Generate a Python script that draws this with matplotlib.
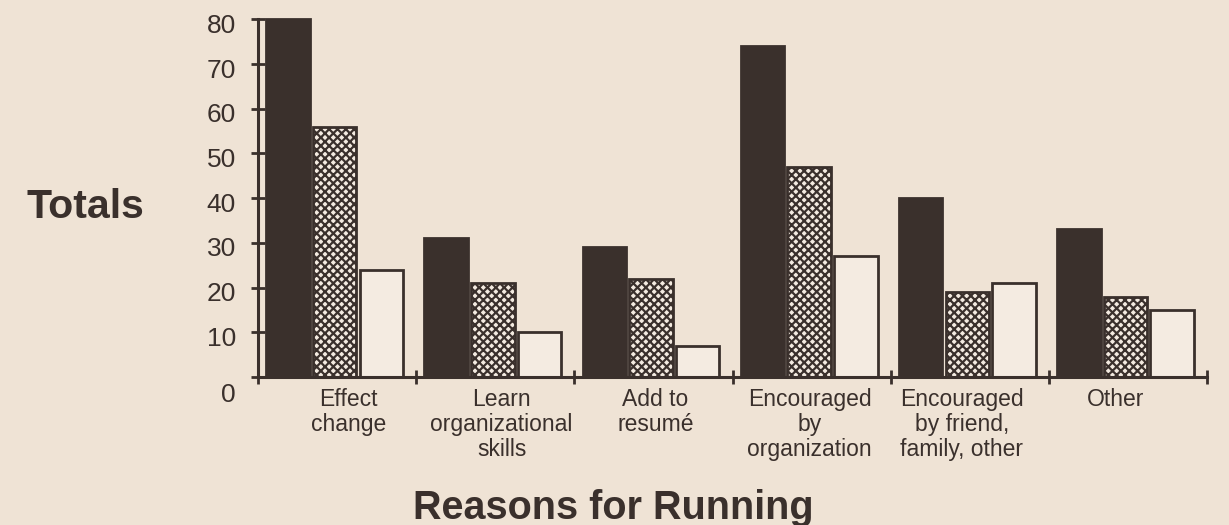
import matplotlib
matplotlib.use('Agg')
import matplotlib.pyplot as plt
import numpy as np
from matplotlib.transforms import ScaledTranslation

# ---- data ----
categories = ["Effect\nchange", "Learn\norganizational\nskills", "Add to\nresumé",
              "Encouraged\nby\norganization", "Encouraged\nby friend,\nfamily, other", "Other"]
series_dark = [80, 31, 29, 74, 40, 33]
series_dotted = [56, 21, 22, 47, 19, 18]
series_open = [24, 10, 7, 27, 21, 15]
y_ticks = [0, 10, 20, 30, 40, 50, 60, 70, 80]
y_tick_labels = ["0", "10", "20", "30", "40", "50", "60", "70", "80"]
x_title = "Reasons for Running"
y_title = "Totals"

# ---- style / layout ----
BG = '#efe3d5'
INK = '#3a302c'
label_shift = np.array([0.07, 0.04, 0.013, -0.013, -0.05, -0.075])

plt.rcParams['font.family'] = ['Liberation Sans', 'DejaVu Sans']
plt.rcParams['hatch.linewidth'] = 1.6

W, H = 1229, 525
fig = plt.figure(figsize=(W / 100, H / 100), dpi=100, facecolor=BG)
ax = fig.add_axes([258 / W, 1 - 377 / H, 949 / W, 357.6 / H])
ax.set_facecolor('none')

n = len(categories)
x = np.arange(n)
w = 0.275
offs = [0.19, 0.485, 0.78]
ax.bar(x + offs[0], series_dark, w, color=INK, edgecolor=INK, lw=2, clip_on=False, zorder=3)
ax.bar(x + offs[1], series_dotted, w, facecolor='#f3eae0', edgecolor=INK, hatch='xxxx',
       lw=2, clip_on=False, zorder=3)
ax.bar(x + offs[2], series_open, w, facecolor='#f4ebe1', edgecolor=INK, lw=2,
       clip_on=False, zorder=3)

ax.set_xlim(0, n)
ax.set_ylim(0, 80)
for s in ['top', 'right']:
    ax.spines[s].set_visible(False)
for s in ['left', 'bottom']:
    ax.spines[s].set_linewidth(2.2)
    ax.spines[s].set_color(INK)
    ax.spines[s].set_zorder(4)

ax.set_xticks(np.arange(n + 1))
ax.set_xticks(x + 0.5 + label_shift, labels=categories, minor=True)
ax.tick_params(axis='x', which='major', direction='inout', length=10, width=2,
               colors=INK, labelbottom=False)
ax.tick_params(axis='x', which='minor', length=0, pad=8, labelsize=16.5, labelcolor=INK)
for lab in ax.get_xticklabels(minor=True):
    lab.set_linespacing(1.1)

ax.set_yticks(y_ticks, labels=y_tick_labels)
ax.tick_params(axis='y', direction='inout', length=10, width=2, colors=INK,
               pad=11, labelsize=19)
for tick in ax.yaxis.get_major_ticks():
    dy = -15 if tick.label1.get_text() == "0" else -4
    tick.label1.set_transform(tick.label1.get_transform() +
                              ScaledTranslation(0, dy / 100, fig.dpi_scale_trans))

fig.text(85 / W, 1 - 218 / H, y_title, ha='center', va='baseline', fontsize=29.5,
         weight='bold', color=INK)
fig.text(613 / W, 1 - 519 / H, x_title, ha='center', va='baseline', fontsize=28.5,
         weight='bold', color=INK)

fig.savefig('out.png', dpi=100, facecolor=BG)
